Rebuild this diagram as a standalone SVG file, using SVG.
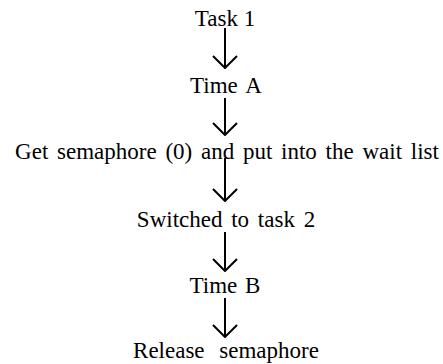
<svg xmlns="http://www.w3.org/2000/svg" width="443" height="364" viewBox="0 0 443 364">
  <style>
    .lbl { font-family: "Liberation Serif", "Times New Roman", serif; font-size: 23px; fill: #000; text-anchor: middle; }
    .edge { stroke: #000; stroke-width: 2; fill: none; }
  </style>
  <defs>
    <!-- open V arrowhead, drawn pointing along +x -->
    <marker id="vhead" viewBox="0 0 14 26" refX="13" refY="13" markerWidth="14" markerHeight="26" markerUnits="userSpaceOnUse" orient="auto">
      <path d="M1,1 L13,13 L1,25" stroke="#000" stroke-width="2" fill="none"/>
    </marker>
  </defs>
  <rect width="443" height="364" fill="#fff"/>

  <g id="connectors">
    <line class="edge" x1="225" y1="28" x2="225" y2="68" marker-end="url(#vhead)"/>
    <line class="edge" x1="225" y1="98" x2="225" y2="135" marker-end="url(#vhead)"/>
    <line class="edge" x1="225" y1="158" x2="225" y2="201" marker-end="url(#vhead)"/>
    <line class="edge" x1="225" y1="232" x2="225" y2="271" marker-end="url(#vhead)"/>
    <line class="edge" x1="225" y1="298" x2="225" y2="337" marker-end="url(#vhead)"/>
  </g>

  <g id="task1"><text class="lbl" x="225" y="26">Task 1</text></g>
  <g id="timeA"><text class="lbl" x="226" y="93" word-spacing="3">Time A</text></g>
  <g id="getSem"><text class="lbl" x="227" y="159" word-spacing="3">Get semaphore (0) and put into the wait list</text></g>
  <g id="switched"><text class="lbl" x="226" y="227" word-spacing="3">Switched to task 2</text></g>
  <g id="timeB"><text class="lbl" x="225" y="293" word-spacing="2">Time B</text></g>
  <g id="release"><text class="lbl" x="226" y="358" word-spacing="9">Release semaphore</text></g>
</svg>
